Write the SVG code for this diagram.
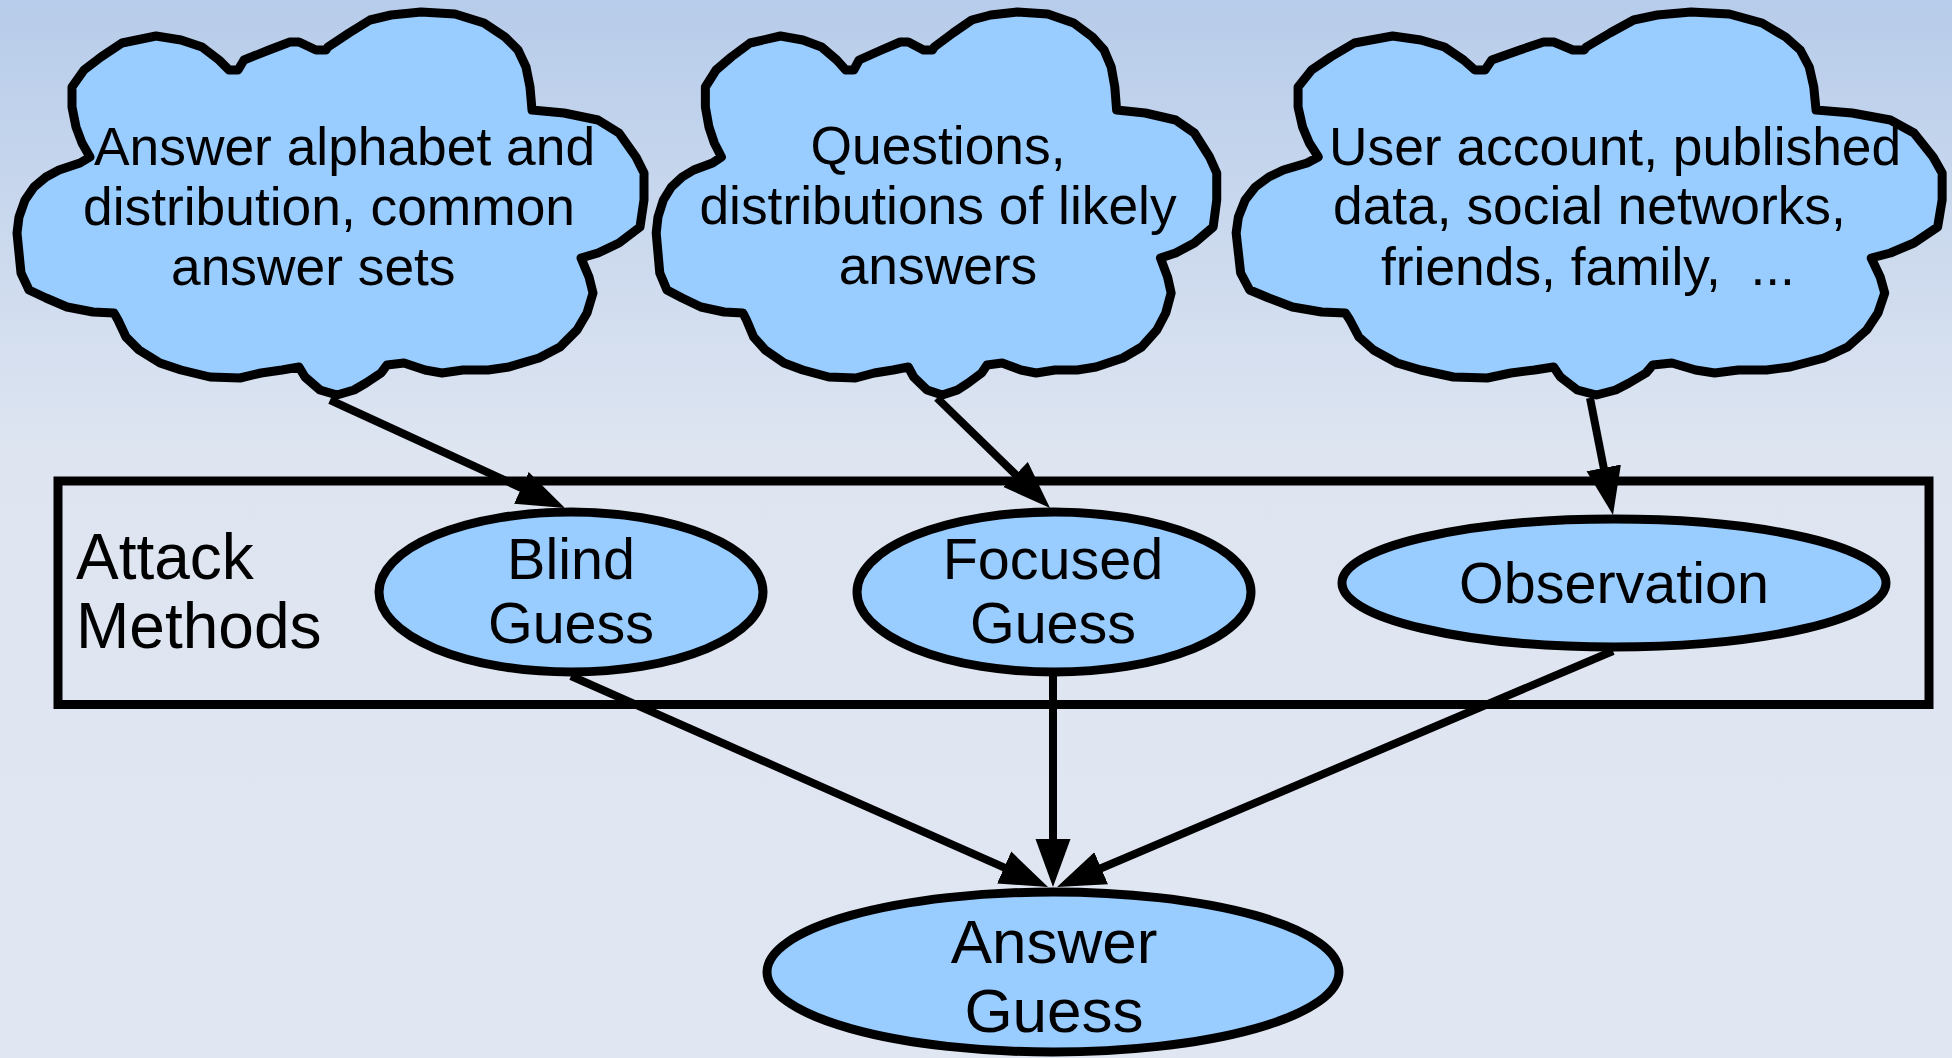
<svg xmlns="http://www.w3.org/2000/svg" xmlns:xlink="http://www.w3.org/1999/xlink" width="1952" height="1058" viewBox="0 0 1952 1058">
  <defs>
    <linearGradient id="bg" x1="0" y1="0" x2="0" y2="1">
      <stop offset="0" stop-color="#b7ccea"/>
      <stop offset="0.43" stop-color="#dee5f1"/>
      <stop offset="1" stop-color="#e0e7f2"/>
    </linearGradient>
    <path id="cloudShape" d="M90,157 L82,143 L76,127 L72,107 L72,87 L84,70 L101,57 L122,43 L156,36 L181,40 L202,47 L219,60 L229,70 L238,70 L244,60 L269,50 L290,42 L299,42 L316,50 L326,50 L328,47 L349,33 L370,20 L391,15 L421,12 L455,14 L484,23 L505,37 L518,50 L526,67 L530,87 L532,110 L564,113 L598,120 L619,133 L636,157 L644,173 L644,200 L640,227 L619,243 L598,253 L581,258 L589,277 L593,293 L587,313 L577,330 L560,347 L539,358 L509,367 L488,370 L463,370 L442,373 L425,370 L404,363 L387,365 L381,373 L366,383 L354,390 L337,395 L320,390 L305,377 L299,367 L282,370 L261,373 L240,378 L210,377 L181,370 L160,363 L139,350 L126,337 L118,320 L114,313 L93,312 L67,307 L46,298 L29,290 L21,273 L19,253 L17,233 L19,217 L25,200 L34,187 L46,177 L59,170 L80,163 Z" fill="#99ccff" stroke="#000" stroke-width="9" stroke-linejoin="round" vector-effect="non-scaling-stroke"/>
    <marker id="arrow" markerUnits="userSpaceOnUse" markerWidth="48" markerHeight="36" refX="4" refY="17.5" orient="auto" viewBox="0 0 48 35">
      <path d="M0,0 L48,17.5 L0,35 Z" fill="#000"/>
    </marker>
    <style>
      .node { fill: #99ccff; stroke: #000; stroke-width: 9; }
      .frame { fill: none; stroke: #000; stroke-width: 9; }
      .edge { fill: none; stroke: #000; stroke-width: 8; marker-end: url(#arrow); }
      .cloudText { font-family: "Liberation Sans", Arial, sans-serif; font-size: 53.33px; fill: #000; }
      .label { font-family: "Liberation Sans", Arial, sans-serif; font-size: 57.5px; fill: #000; text-anchor: middle; }
      .big { font-family: "Liberation Sans", Arial, sans-serif; font-size: 62px; fill: #000; text-anchor: middle; }
      .group { font-family: "Liberation Sans", Arial, sans-serif; font-size: 64px; fill: #000; }
    </style>
  </defs>

  <rect x="0" y="0" width="1952" height="1058" fill="url(#bg)"/>

  <g id="attack-methods">
    <rect class="frame" x="58" y="481" width="1871" height="223.5"/>
    <text class="group" x="76" y="579">Attack</text>
    <text class="group" x="76" y="648">Methods</text>
  </g>

  <g id="cloud-alphabet">
    <use xlink:href="#cloudShape" href="#cloudShape"/>
    <text class="cloudText" x="94" y="165">Answer alphabet and</text>
    <text class="cloudText" x="83" y="225">distribution, common</text>
    <text class="cloudText" x="171" y="285">answer sets</text>
  </g>

  <g id="cloud-questions">
    <use xlink:href="#cloudShape" href="#cloudShape" transform="translate(641,0) scale(0.894,1)"/>
    <text class="cloudText" x="938" y="164" text-anchor="middle">Questions,</text>
    <text class="cloudText" x="938" y="224" text-anchor="middle">distributions of likely</text>
    <text class="cloudText" x="938" y="284" text-anchor="middle">answers</text>
  </g>

  <g id="cloud-user">
    <use xlink:href="#cloudShape" href="#cloudShape" transform="translate(1217,0) scale(1.126,1)"/>
    <text class="cloudText" x="1329" y="165">User account, published</text>
    <text class="cloudText" x="1333" y="224">data, social networks,</text>
    <text class="cloudText" x="1381" y="285" xml:space="preserve">friends, family,  ...</text>
  </g>

  <g id="blind-guess">
    <ellipse class="node" cx="571" cy="592" rx="192" ry="80"/>
    <text class="label" x="571" y="579">Blind</text>
    <text class="label" x="571" y="643">Guess</text>
  </g>

  <g id="focused-guess">
    <ellipse class="node" cx="1054" cy="592" rx="197" ry="80"/>
    <text class="label" x="1053" y="579">Focused</text>
    <text class="label" x="1053" y="643">Guess</text>
  </g>

  <g id="observation">
    <ellipse class="node" cx="1614" cy="583" rx="272" ry="64"/>
    <text class="label" x="1614" y="603">Observation</text>
  </g>

  <g id="answer-guess">
    <ellipse class="node" cx="1053" cy="972" rx="286" ry="80"/>
    <text class="big" x="1054" y="963">Answer</text>
    <text class="big" x="1054" y="1032">Guess</text>
  </g>

  <g id="connectors">
    <line class="edge" x1="330" y1="400" x2="525" y2="489.6"/>
    <line class="edge" x1="937" y1="398" x2="1018.5" y2="477.3"/>
    <line class="edge" x1="1590" y1="398" x2="1604.5" y2="471.8"/>
    <line class="edge" x1="571" y1="676" x2="1007.8" y2="869.2"/>
    <line class="edge" x1="1053" y1="676" x2="1053" y2="843"/>
    <line class="edge" x1="1613" y1="651" x2="1097.5" y2="869.8"/>
  </g>
</svg>
